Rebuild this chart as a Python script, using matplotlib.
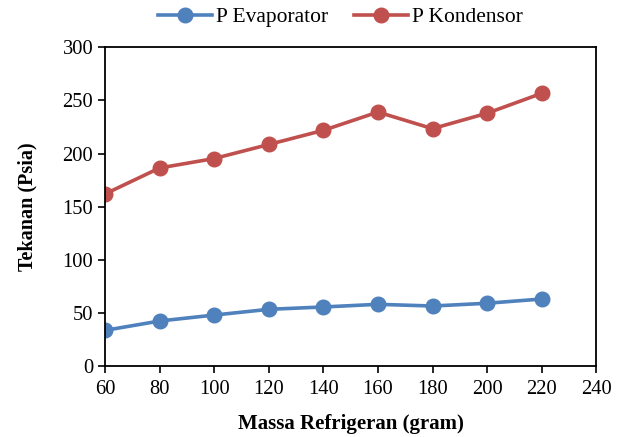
import matplotlib
matplotlib.use("Agg")
import matplotlib.pyplot as plt

massa = [60, 80, 100, 120, 140, 160, 180, 200, 220]
p_evaporator = [33.7, 42.5, 48.1, 53.5, 55.7, 58.2, 56.6, 59.2, 63.2]
p_kondensor = [162, 186.4, 195.3, 208.5, 221.8, 239, 223.4, 237.9, 256.6]
x_ticks = [60, 80, 100, 120, 140, 160, 180, 200, 220, 240]
y_ticks = [0, 50, 100, 150, 200, 250, 300]

plt.rcParams['font.family'] = ['Liberation Serif', 'DejaVu Serif']

fig = plt.figure(figsize=(6.25, 4.37), dpi=100)
ax = fig.add_axes([0.168, 0.162, 0.786, 0.730])

ax.plot(massa, p_evaporator, color='#4F81BD', lw=2.6, marker='o', ms=10.5,
        label='P Evaporator')
ax.plot(massa, p_kondensor, color='#C0504D', lw=2.6, marker='o', ms=10.5,
        label='P Kondensor')

ax.set_xlim(60, 240)
ax.set_ylim(0, 300)
ax.set_xticks(x_ticks)
ax.set_yticks(y_ticks)
ax.tick_params(direction='out', length=5, width=1.2, labelsize=14.8, colors='black')
ax.tick_params(axis='x', pad=5)
for s in ax.spines.values():
    s.set_linewidth(1.3)
    s.set_color('black')

ax.set_xlabel('Massa Refrigeran (gram)', fontsize=15, fontweight='bold', labelpad=11)
ax.set_ylabel('Tekanan (Psia)', fontsize=14.5, fontweight='bold', labelpad=18)

fig.legend(loc='center', bbox_to_anchor=(0.545, 0.961), ncol=2, frameon=False,
           fontsize=15.5, handlelength=2.5, columnspacing=1.2, handletextpad=0.2)

fig.savefig('out.png', dpi=100)
